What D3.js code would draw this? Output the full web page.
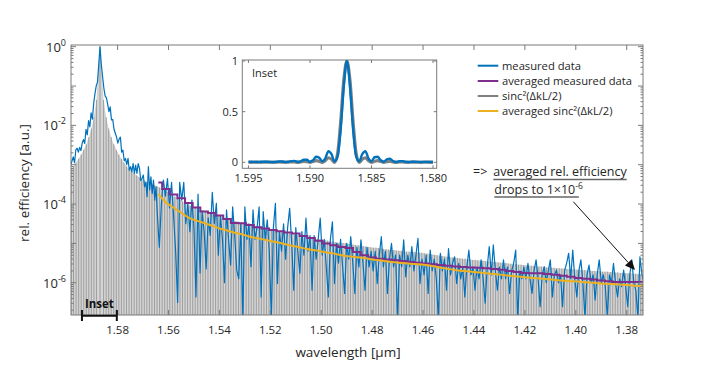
<!DOCTYPE html>
<html><head><meta charset="utf-8">
<script src="https://cdn.jsdelivr.net/npm/d3@7"></script>
<style>body{margin:0;background:#fff}svg{display:block}text{font-family:'Open Sans',sans-serif;fill:#262626}</style>
</head><body><svg id="c" width="706" height="365"></svg>
<script>
// ---------- DATA ----------
const xTicks = [1.58,1.56,1.54,1.52,1.50,1.48,1.46,1.44,1.42,1.40,1.38];
const yLabelExp = [0,-2,-4,-6];
// sinc^2(ΔkL/2): lobe positions (µm) and lobe peak heights (log10)
const sincWl = [
1.5983,1.5973,1.5963,1.5953,1.5943,1.5933,1.5923,1.5913,1.5903,1.5893,1.5883,
1.5869,
1.5855,1.5845,1.5835,1.5825,1.5815,1.5805,1.5795,1.5785,1.5775,1.5765,
1.5755,1.5745,1.5735,1.5725,1.5715,1.5705,1.5695,1.5685,1.5675,1.5665,
1.5655,1.5645,1.5635,1.5625,1.5615,1.5605,1.5595,1.5585,1.5575,1.5565,
1.5555,1.5545,1.5535,1.5525,1.5515,1.5505,1.5495,1.5485,1.5475,1.5465,
1.5455,1.5445,1.5435,1.5425,1.5415,1.5405,1.5395,1.5385,1.5375,1.5365,
1.5355,1.5345,1.5335,1.5325,1.5315,1.5305,1.5295,1.5285,1.5275,1.5265,
1.5255,1.5245,1.5235,1.5225,1.5215,1.5205,1.5195,1.5185,1.5175,1.5165,
1.5155,1.5145,1.5135,1.5125,1.5115,1.5105,1.5095,1.5085,1.5075,1.5065,
1.5055,1.5045,1.5035,1.5025,1.5015,1.5005,1.4995,1.4985,1.4975,1.4965,
1.4955,1.4945,1.4935,1.4925,1.4915,1.4905,1.4895,1.4885,1.4875,1.4865,
1.4855,1.4845,1.4835,1.4825,1.4815,1.4805,1.4795,1.4785,1.4775,1.4765,
1.4755,1.4745,1.4735,1.4725,1.4715,1.4705,1.4695,1.4685,1.4675,1.4665,
1.4655,1.4645,1.4635,1.4625,1.4615,1.4605,1.4595,1.4585,1.4575,1.4565,
1.4555,1.4545,1.4535,1.4525,1.4515,1.4505,1.4495,1.4485,1.4475,1.4465,
1.4455,1.4445,1.4435,1.4425,1.4415,1.4405,1.4395,1.4385,1.4375,1.4365,
1.4355,1.4345,1.4335,1.4325,1.4315,1.4305,1.4295,1.4285,1.4275,1.4265,
1.4255,1.4245,1.4235,1.4225,1.4215,1.4205,1.4195,1.4185,1.4175,1.4165,
1.4155,1.4145,1.4135,1.4125,1.4115,1.4105,1.4095,1.4085,1.4075,1.4065,
1.4055,1.4045,1.4035,1.4025,1.4015,1.4005,1.3995,1.3985,1.3975,1.3965,
1.3955,1.3945,1.3935,1.3925,1.3915,1.3905,1.3895,1.3885,1.3875,1.3865,
1.3855,1.3845,1.3835,1.3825,1.3815,1.3805,1.3795,1.3785,1.3775,1.3765,
1.3755,1.3745,1.3735];
const sincPeakLog = [
-3.12,-3.04,-2.95,-2.85,-2.74,-2.62,-2.48,-2.30,-2.08,-1.79,-1.35,
0,
-1.35,-1.79,-2.08,-2.30,-2.48,-2.62,-2.74,-2.85,-2.95,-3.04,
-3.10,-3.16,-3.22,-3.27,-3.32,-3.36,-3.40,-3.43,-3.46,-3.49,
-3.52,-3.55,-3.58,-3.62,-3.65,-3.70,-3.74,-3.78,-3.81,-3.85,
-3.89,-3.93,-3.97,-4.00,-4.04,-4.07,-4.10,-4.12,-4.14,-4.16,
-4.19,-4.21,-4.24,-4.26,-4.28,-4.30,-4.32,-4.34,-4.36,-4.38,
-4.40,-4.42,-4.44,-4.45,-4.47,-4.48,-4.50,-4.51,-4.53,-4.55,
-4.56,-4.58,-4.59,-4.61,-4.62,-4.64,-4.65,-4.67,-4.68,-4.70,
-4.71,-4.72,-4.74,-4.75,-4.77,-4.78,-4.79,-4.80,-4.82,-4.83,
-4.84,-4.85,-4.86,-4.87,-4.89,-4.90,-4.91,-4.92,-4.93,-4.95,
-4.96,-4.97,-4.98,-4.99,-4.99,-5.00,-5.01,-5.02,-5.03,-5.04,
-5.05,-5.06,-5.07,-5.08,-5.09,-5.10,-5.11,-5.11,-5.12,-5.13,
-5.14,-5.15,-5.16,-5.17,-5.17,-5.18,-5.19,-5.19,-5.20,-5.21,
-5.21,-5.22,-5.22,-5.23,-5.24,-5.24,-5.25,-5.26,-5.27,-5.28,
-5.29,-5.30,-5.31,-5.32,-5.33,-5.34,-5.35,-5.36,-5.37,-5.37,
-5.38,-5.39,-5.39,-5.40,-5.41,-5.42,-5.42,-5.43,-5.44,-5.44,
-5.45,-5.46,-5.46,-5.47,-5.48,-5.48,-5.49,-5.50,-5.50,-5.51,
-5.52,-5.52,-5.53,-5.54,-5.54,-5.55,-5.56,-5.56,-5.57,-5.57,
-5.58,-5.59,-5.59,-5.60,-5.61,-5.61,-5.62,-5.62,-5.63,-5.63,
-5.64,-5.64,-5.65,-5.65,-5.66,-5.66,-5.67,-5.67,-5.68,-5.68,
-5.69,-5.69,-5.70,-5.70,-5.71,-5.71,-5.72,-5.72,-5.72,-5.73,
-5.73,-5.74,-5.74,-5.75,-5.75,-5.76,-5.76,-5.76,-5.77,-5.77,
-5.78,-5.78,-5.78];
// measured data: wavelength (µm) and log10 of rel. efficiency
const measuredWl = [
1.5984,1.5979,1.5974,1.5969,1.5964,1.5959,1.5954,1.5949,1.5944,1.5939,
1.5934,1.5929,1.5924,1.5919,1.5914,1.5909,1.5904,1.5899,1.5894,1.5889,
1.5884,1.5879,1.5874,1.5869,1.5864,1.5859,1.5854,1.5849,1.5844,1.5839,
1.5834,1.5829,1.5824,1.5819,1.5814,1.5809,1.5804,1.5799,1.5794,1.5789,
1.5784,1.5779,1.5774,1.5769,1.5764,1.5759,1.5754,1.5749,1.5744,1.5739,
1.5734,1.5729,1.5724,1.5719,1.5714,1.5709,1.5704,1.5699,1.5694,1.5689,
1.5684,1.5679,1.5674,1.5669,1.5664,1.5659,1.5654,1.5649,1.5644,
1.5636,1.5628,1.5620,1.5612,1.5604,1.5596,1.5588,1.5580,1.5572,1.5564,
1.5556,1.5548,1.5540,1.5532,1.5524,1.5516,1.5508,1.5500,1.5492,1.5484,
1.5476,1.5468,1.5460,1.5452,1.5444,1.5436,1.5428,1.5420,1.5412,1.5404,
1.5396,1.5388,1.5380,1.5372,1.5364,1.5356,1.5348,1.5340,1.5332,1.5324,
1.5316,1.5308,1.5300,1.5292,1.5284,1.5276,1.5268,1.5260,1.5252,1.5244,
1.5236,1.5228,1.5220,1.5212,1.5204,1.5196,1.5188,1.5180,1.5172,1.5164,
1.5156,1.5148,1.5140,1.5132,1.5124,1.5116,1.5108,1.5100,1.5092,1.5084,
1.5076,1.5068,1.5060,1.5052,1.5044,1.5036,1.5028,1.5020,1.5012,1.5004,
1.4996,1.4988,1.4980,1.4972,1.4964,1.4956,1.4948,1.4940,1.4932,1.4924,
1.4916,1.4908,1.4900,1.4892,1.4884,1.4876,1.4868,1.4860,1.4852,1.4844,
1.4836,1.4828,1.4820,1.4812,1.4804,1.4796,1.4788,1.4780,1.4772,1.4764,
1.4756,1.4748,1.4740,1.4732,1.4724,1.4716,1.4708,1.4700,1.4692,1.4684,
1.4676,1.4668,1.4660,1.4652,1.4644,1.4636,1.4628,1.4620,1.4612,1.4604,
1.4596,1.4588,1.4580,1.4572,1.4564,1.4556,1.4548,1.4540,1.4532,1.4524,
1.4516,1.4508,1.4500,1.4492,1.4484,1.4476,1.4468,1.4460,1.4452,1.4444,
1.4436,1.4428,1.4420,1.4412,1.4404,1.4396,1.4388,1.4380,1.4372,1.4364,
1.4356,1.4348,1.4340,1.4332,1.4324,1.4316,1.4308,1.4300,1.4292,1.4284,
1.4276,1.4268,1.4260,1.4252,1.4244,1.4236,1.4228,1.4220,1.4212,1.4204,
1.4196,1.4188,1.4180,1.4172,1.4164,1.4156,1.4148,1.4140,1.4132,1.4124,
1.4116,1.4108,1.4100,1.4092,1.4084,1.4076,1.4068,1.4060,1.4052,1.4044,
1.4036,1.4028,1.4020,1.4012,1.4004,1.3996,1.3988,1.3980,1.3972,1.3964,
1.3956,1.3948,1.3940,1.3932,1.3924,1.3916,1.3908,1.3900,1.3892,1.3884,
1.3876,1.3868,1.3860,1.3852,1.3844,1.3836,1.3828,1.3820,1.3812,1.3804,
1.3796,1.3788,1.3780,1.3772,1.3764,1.3756,1.3748,1.3740,1.3732];
const measuredLog = [
-3.02,-2.9,-2.8,-2.95,-2.62,-2.58,-2.68,-2.56,-2.64,-2.45,
-2.36,-2.46,-2.1,-2.24,-1.88,-2.04,-1.68,-1.84,-1.45,-1.2,
-1.0,-0.9,-0.45,0,-0.45,-0.75,-1.05,-1.25,-1.3,-1.46,
-1.65,-1.53,-1.86,-1.85,-2.1,-2.2,-2.3,-2.45,-2.35,-2.3,
-2.68,-2.63,-2.9,-2.84,-3.0,-2.84,-3.14,-3.05,-3.18,-2.97,
-3.22,-3.01,-3.22,-2.97,-3.09,-3.4,-3.35,-3.26,-3.56,-3.45,
-3.81,-3.05,-3.64,-3.31,-3.73,-3.39,-3.9,-3.56,-4.24,
-5.1,-4.0,-3.39,-3.8,-3.35,-4.1,-3.45,-4.3,-5.2,-6.5,
-3.45,-3.9,-3.45,-4.5,-4.0,-4.7,-3.9,-4.6,-6.36,-3.75,
-5.75,-4.2,-4.7,-5.65,-4.35,-4.8,-3.7,-4.5,-3.98,-5.3,
-4.3,-4.9,-6.0,-4.15,-4.9,-5.55,-4.07,-4.8,-5.68,-5.9,
-4.5,-6.9,-4.07,-4.9,-4.5,-5.59,-4.15,-4.9,-4.6,-4.07,
-6.36,-4.19,-4.9,-4.4,-5.2,-6.9,-4.6,-3.98,-6.02,-4.7,
-5.2,-4.5,-5.4,-4.6,-4.11,-5.0,-6.19,-4.6,-5.2,-5.76,
-4.7,-5.3,-4.36,-5.2,-4.8,-6.19,-4.8,-5.4,-4.9,-4.36,
-5.3,-4.9,-5.6,-6.36,-4.9,-4.45,-6.02,-5.0,-5.5,-4.9,
-5.6,-6.27,-5.0,-5.4,-4.83,-5.5,-6.27,-5.1,-5.6,-4.91,
-5.5,-6.19,-5.1,-5.6,-5.2,-5.7,-5.2,-6.02,-5.3,-4.83,
-5.6,-5.2,-6.27,-5.4,-5.0,-5.6,-5.3,-6.9,-5.3,-5.6,
-4.91,-5.85,-5.3,-5.6,-5.08,-5.7,-5.3,-4.87,-6.02,-5.4,
-5.8,-5.3,-6.27,-5.17,-5.7,-5.4,-5.9,-6.9,-5.25,-5.7,
-5.4,-6.19,-5.13,-5.8,-5.5,-5.34,-6.02,-5.51,-5.9,-5.6,
-6.36,-5.6,-5.17,-5.8,-5.6,-6.19,-5.6,-5.9,-5.42,-5.9,
-6.52,-5.6,-5.08,-5.8,-5.04,-5.7,-6.19,-5.6,-5.9,-5.42,
-5.9,-5.6,-6.27,-5.7,-5.5,-5.17,-6.9,-5.7,-5.9,-5.6,
-5.9,-5.51,-5.9,-6.27,-5.7,-5.42,-5.9,-6.61,-5.8,-5.59,
-6.0,-5.7,-5.42,-6.36,-5.8,-5.68,-6.0,-5.8,-6.61,-5.7,
-5.5,-5.25,-5.9,-5.17,-5.9,-6.36,-5.7,-5.42,-6.0,-6.9,
-5.8,-5.55,-6.0,-5.8,-6.44,-5.8,-5.42,-6.0,-5.8,-6.1,
-6.9,-5.8,-6.0,-5.51,-6.0,-6.36,-5.9,-6.1,-5.68,-6.1,
-6.61,-5.8,-5.42,-6.0,-6.2,-6.9,-5.34,-5.8,-6.0];
// averaged curves (log10)
const avgWl = [
1.5640,1.5610,1.5580,1.5550,1.5520,1.5490,1.5460,1.5430,1.5400,1.5370,
1.5340,1.5310,1.5280,1.5250,1.5220,1.5190,1.5160,1.5130,1.5100,1.5070,
1.5040,1.5010,1.4980,1.4950,1.4920,1.4890,1.4860,1.4830,1.4800,1.4770,
1.4740,1.4710,1.4680,1.4650,1.4620,1.4590,1.4560,1.4530,1.4500,1.4470,
1.4440,1.4410,1.4380,1.4350,1.4320,1.4290,1.4260,1.4230,1.4200,1.4170,
1.4140,1.4110,1.4080,1.4050,1.4020,1.3990,1.3960,1.3930,1.3900,1.3870,
1.3840,1.3810,1.3780,1.3750,1.3720];
const avgMeasuredLog = [
-3.45,-3.62,-3.76,-3.85,-3.97,-4.09,-4.19,-4.23,-4.29,-4.38,
-4.48,-4.49,-4.53,-4.59,-4.62,-4.66,-4.69,-4.72,-4.75,-4.81,
-4.86,-4.93,-5.00,-5.05,-5.09,-5.12,-5.22,-5.30,-5.36,-5.39,
-5.41,-5.43,-5.45,-5.47,-5.49,-5.51,-5.53,-5.55,-5.57,-5.59,
-5.60,-5.61,-5.62,-5.63,-5.65,-5.67,-5.70,-5.73,-5.75,-5.76,
-5.76,-5.78,-5.80,-5.82,-5.85,-5.88,-5.90,-5.92,-5.94,-5.96,
-5.98,-5.98,-5.98,-5.98,-5.98];
const avgSincLog = [
-3.75,-3.96,-4.09,-4.22,-4.35,-4.42,-4.48,-4.55,-4.62,-4.67,
-4.73,-4.77,-4.83,-4.87,-4.91,-4.95,-4.99,-5.04,-5.08,-5.12,
-5.16,-5.19,-5.23,-5.26,-5.30,-5.33,-5.35,-5.37,-5.41,-5.43,
-5.46,-5.48,-5.50,-5.52,-5.53,-5.55,-5.58,-5.62,-5.65,-5.68,
-5.70,-5.72,-5.74,-5.76,-5.78,-5.80,-5.82,-5.84,-5.86,-5.88,
-5.89,-5.91,-5.93,-5.95,-5.96,-5.97,-5.99,-6.00,-6.02,-6.03,
-6.04,-6.05,-6.07,-6.08,-6.09];
// inset (linear scale)
const insetTicksX = [1.595,1.590,1.585,1.580];
const insetTicksY = [0,0.5,1];
const insetWl = [
1.5950,1.59475,1.5945,1.59425,1.5940,1.59375,1.5935,1.59325,1.5930,1.59275,
1.5925,1.59225,1.5920,1.59175,1.5915,1.59125,1.5910,1.59075,1.5905,1.59025,
1.5900,1.58975,1.5895,1.58925,1.5890,1.58875,1.5885,1.58825,1.5880,1.58775,
1.5875,1.58725,1.5870,1.58675,1.5865,1.58625,1.5860,1.58575,1.5855,1.58525,
1.5850,1.58475,1.5845,1.58425,1.5840,1.58375,1.5835,1.58325,1.5830,1.58275,
1.5825,1.58225,1.5820,1.58175,1.5815,1.58125,1.5810,1.58075,1.5805,1.58025,1.5800];
const insetMeasured = [
.004,.005,.004,.003,.005,.006,.005,.003,.003,.004,
.008,.008,.004,.006,.012,.014,.005,.01,.025,.025,
.006,.02,.055,.045,.01,.04,.11,.08,.01,.06,
.33,.75,1,.75,.33,.06,.01,.08,.11,.04,
.01,.05,.055,.02,.006,.03,.035,.012,.004,.01,
.012,.005,.003,.005,.006,.004,.003,.004,.004,.003,.003];
const insetSinc = [
.001,0,.001,.001,0,.001,.002,.001,0,.001,
.003,.002,0,.002,.005,.004,0,.004,.008,.006,
0,.008,.016,.01,0,.017,.045,.03,0,.09,
.405,.81,1,.81,.405,.09,0,.03,.045,.017,
0,.01,.016,.008,0,.006,.008,.004,0,.003,
.004,.002,0,.002,.002,.001,0,.001,.001,.001,0];
const insetBracket = [1.594,1.5803];

// ---------- DRAWING ----------
const svg = d3.select('#c');
const M = {l:71, r:643, t:45, b:315};
const p10 = v => Math.pow(10, v);
const x = d3.scaleLinear().domain([1.5983, 1.3736]).range([M.l, M.r]);
const y = d3.scaleLog().domain([p10(-6.82), p10(0.043)]).range([M.b, M.t]);
const AX = '#7a7a7a';

const defs = svg.append('defs');
defs.append('clipPath').attr('id','clipMain').append('rect')
  .attr('x',M.l).attr('y',M.t).attr('width',M.r-M.l).attr('height',M.b-M.t);

const plot = svg.append('g').attr('clip-path','url(#clipMain)');
const sincData = sincWl.map((w,i)=>({w, v:sincPeakLog[i]}));
plot.append('path').datum(sincData)
  .attr('d', d3.area().x(d=>x(d.w)).y0(M.b+5).y1(d=>y(p10(d.v))))
  .attr('fill','#d4d4d4');
plot.selectAll('line.sinc').data(sincData).join('line').attr('class','sinc')
  .attr('x1',d=>x(d.w)).attr('x2',d=>x(d.w))
  .attr('y1',M.b+5).attr('y2',d=>y(p10(d.v)))
  .attr('stroke','#979797').attr('stroke-width',0.9);

const meas = measuredWl.map((w,i)=>({w, v:measuredLog[i]}));
const lineLog = d3.line().x(d=>x(d.w)).y(d=>y(p10(d.v)));
plot.append('path').datum(meas).attr('d', lineLog)
  .attr('fill','none').attr('stroke','#0072BD').attr('stroke-width',1.2).attr('stroke-linejoin','round');

const avgM = avgWl.map((w,i)=>({w, v:avgMeasuredLog[i]}));
plot.append('path').datum(avgM).attr('d', d3.line().curve(d3.curveStep).x(d=>x(d.w)).y(d=>y(p10(d.v))))
  .attr('fill','none').attr('stroke','#7E2F8E').attr('stroke-width',2);
const avgS = avgWl.map((w,i)=>({w, v:avgSincLog[i]}));
plot.append('path').datum(avgS).attr('d', d3.line().curve(d3.curveMonotoneX).x(d=>x(d.w)).y(d=>y(p10(d.v))))
  .attr('fill','none').attr('stroke','#EDB120').attr('stroke-width',2);

// axes box
svg.append('rect').attr('x',M.l).attr('y',M.t).attr('width',M.r-M.l).attr('height',M.b-M.t)
  .attr('fill','none').attr('stroke',AX).attr('stroke-width',1);
xTicks.forEach(t=>{
  const px = x(t);
  svg.append('line').attr('x1',px).attr('x2',px).attr('y1',M.b).attr('y2',M.b-5).attr('stroke',AX);
  svg.append('line').attr('x1',px).attr('x2',px).attr('y1',M.t).attr('y2',M.t+5).attr('stroke',AX);
  svg.append('text').attr('x',px).attr('y',333.5).attr('text-anchor','middle')
    .attr('font-size',11.5).text(t.toFixed(2));
});
for (let k=-7;k<=0;k++){
  for (let m=1;m<=9;m++){
    const v = m*p10(k);
    if (v < y.domain()[0] || v > y.domain()[1]) continue;
    const py = y(v), len = m===1?5:2.5;
    svg.append('line').attr('x1',M.l).attr('x2',M.l+len).attr('y1',py).attr('y2',py).attr('stroke',AX);
    svg.append('line').attr('x1',M.r).attr('x2',M.r-len).attr('y1',py).attr('y2',py).attr('stroke',AX);
  }
}
yLabelExp.forEach(e=>{
  const t = svg.append('text').attr('x',66).attr('y',y(p10(e))+5).attr('text-anchor','end').attr('font-size',13);
  t.append('tspan').text('10');
  t.append('tspan').attr('dy',-6).attr('font-size',9).text(String(e));
});
svg.append('text').attr('x',348).attr('y',357).attr('text-anchor','middle').attr('font-size',13.5).text('wavelength [µm]');
svg.append('text').attr('transform','translate(29,183) rotate(-90)').attr('text-anchor','middle')
  .attr('font-size',13.5).text('rel. efficiency [a.u.]');

// inset bracket
const bx0 = x(insetBracket[0]), bx1 = x(insetBracket[1]);
svg.append('line').attr('x1',bx0).attr('x2',bx1).attr('y1',315.7).attr('y2',315.7).attr('stroke','#111').attr('stroke-width',2);
[bx0,bx1].forEach(b=>svg.append('line').attr('x1',b).attr('x2',b).attr('y1',310).attr('y2',321).attr('stroke','#111').attr('stroke-width',2));
svg.append('text').attr('x',(bx0+bx1)/2).attr('y',308).attr('text-anchor','middle')
  .attr('font-size',11.5).attr('font-weight','bold').style('fill','#111').text('Inset');

// ---------- INSET ----------
const I = {l:242.3, r:436.7, t:60, b:168.3};
const xi = d3.scaleLinear().domain([1.5955,1.5797]).range([I.l,I.r]);
const yi = d3.scaleLinear().domain([-0.059,1.01]).range([I.b,I.t]);
svg.append('rect').attr('x',I.l).attr('y',I.t).attr('width',I.r-I.l).attr('height',I.b-I.t)
  .attr('fill','#fff').attr('stroke',AX);
defs.append('clipPath').attr('id','clipInset').append('rect')
  .attr('x',I.l).attr('y',I.t).attr('width',I.r-I.l).attr('height',I.b-I.t);
const ig = svg.append('g').attr('clip-path','url(#clipInset)');
const iLine = d3.line().curve(d3.curveMonotoneX).x(d=>xi(d.w)).y(d=>yi(d.v));
ig.append('path').datum(insetWl.map((w,i)=>({w,v:insetSinc[i]}))).attr('d',iLine)
  .attr('fill','none').attr('stroke','#808080').attr('stroke-width',3.2);
ig.append('path').datum(insetWl.map((w,i)=>({w,v:insetMeasured[i]}))).attr('d',iLine)
  .attr('fill','none').attr('stroke','#0072BD').attr('stroke-width',2.4);
insetTicksX.forEach(t=>{
  const px = xi(t);
  svg.append('line').attr('x1',px).attr('x2',px).attr('y1',I.b).attr('y2',I.b-3).attr('stroke',AX);
  svg.append('line').attr('x1',px).attr('x2',px).attr('y1',I.t).attr('y2',I.t+3).attr('stroke',AX);
  svg.append('text').attr('x',px).attr('y',182).attr('text-anchor','middle').attr('font-size',11).text(t.toFixed(3));
});
insetTicksY.forEach(t=>{
  const py = yi(t);
  svg.append('line').attr('x1',I.l).attr('x2',I.l+3).attr('y1',py).attr('y2',py).attr('stroke',AX);
  svg.append('line').attr('x1',I.r).attr('x2',I.r-3).attr('y1',py).attr('y2',py).attr('stroke',AX);
  svg.append('text').attr('x',238).attr('y',py+4).attr('text-anchor','end').attr('font-size',11).text(String(t));
});
svg.append('text').attr('x',252).attr('y',77).attr('font-size',11).text('Inset');

// ---------- LEGEND ----------
const legendNames = ['measured data','averaged measured data','sinc²(ΔkL/2)','averaged sinc²(ΔkL/2)'];
const legendColors = ['#0072BD','#7E2F8E','#808080','#EDB120'];
const rowsY = [65.7,81,96,111];
legendNames.forEach((n,i)=>{
  svg.append('line').attr('x1',477.7).attr('x2',498.3).attr('y1',rowsY[i]).attr('y2',rowsY[i])
    .attr('stroke',legendColors[i]).attr('stroke-width',2);
  svg.append('text').attr('x',502).attr('y',rowsY[i]+4).attr('font-size',11.2).text(n);
});

// ---------- ANNOTATION ----------
svg.append('text').attr('x',473).attr('y',176).attr('font-size',12.5).text('=>');
const a1 = svg.append('text').attr('x',493.3).attr('y',176).attr('font-size',12.5).text('averaged rel. efficiency');
const l1 = a1.node().getComputedTextLength();
svg.append('line').attr('x1',493.3).attr('x2',493.3+l1).attr('y1',179.5).attr('y2',179.5).attr('stroke','#666').attr('stroke-width',1.5);
const a2 = svg.append('text').attr('x',494.3).attr('y',194).attr('font-size',12.5);
a2.append('tspan').text('drops to 1×10');
a2.append('tspan').attr('dy',-5).attr('font-size',8.5).text('-6');
const l2 = a2.node().getComputedTextLength();
svg.append('line').attr('x1',494.3).attr('x2',494.3+l2-4).attr('y1',197).attr('y2',197).attr('stroke','#666').attr('stroke-width',1.5);
const ax0=573.3, ay0=201.7, ax1=635, ay1=270;
const dx=ax1-ax0, dy=ay1-ay0, L=Math.hypot(dx,dy), ux=dx/L, uy=dy/L;
const hl=10, hw=4.5;
svg.append('line').attr('x1',ax0).attr('y1',ay0).attr('x2',ax1-ux*hl).attr('y2',ay1-uy*hl).attr('stroke','#111').attr('stroke-width',1);
svg.append('polygon').attr('points',[
  [ax1,ay1],[ax1-ux*hl-uy*hw, ay1-uy*hl+ux*hw],[ax1-ux*hl+uy*hw, ay1-uy*hl-ux*hw]].map(p=>p.join(',')).join(' '))
  .attr('fill','#111');
</script></body></html>
